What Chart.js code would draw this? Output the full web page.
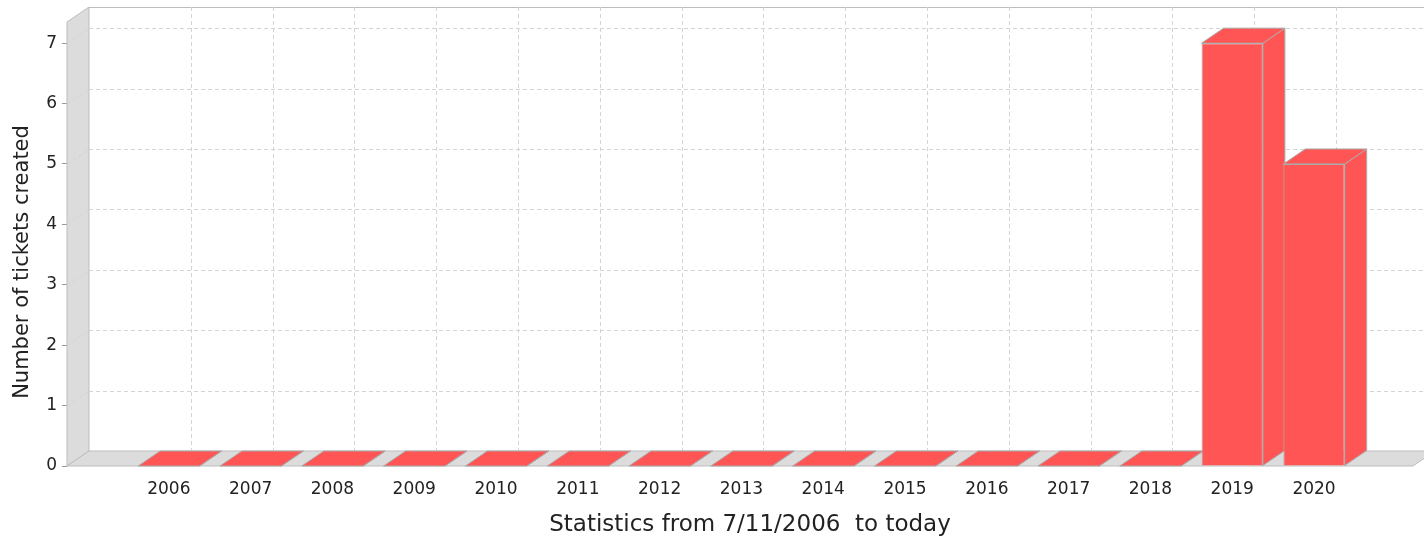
<!DOCTYPE html>
<html>
<head>
<meta charset="utf-8">
<script src="https://cdn.jsdelivr.net/npm/chart.js@4.4.1/dist/chart.umd.min.js"></script>
<style>
  html, body { margin: 0; padding: 0; background: #fff; }
  #caixa { width: 1424px; height: 542px; position: relative; }
</style>
</head>
<body>
<div id="caixa"><canvas id="grafico"></canvas></div>
<script>
// dados
const anos = ['2006', '2007', '2008', '2009', '2010', '2011', '2012', '2013',
              '2014', '2015', '2016', '2017', '2018', '2019', '2020'];
const tickets = [0, 0, 0, 0, 0, 0, 0, 0, 0, 0, 0, 0, 0, 7, 5];
const marcasY = [0, 1, 2, 3, 4, 5, 6, 7];
const tituloX = 'Statistics from 7/11/2006  to today';
const tituloY = 'Number of tickets created';

// profundidade do efeito 3D
const DX = 22, DY = 15;
const corBarra = '#ff5555';
const corContorno = '#ababab';
const corParede = '#dcdcdc';
const corBordaParede = '#bdbdbd';
const corGrade = '#d4d4d4';
const corTexto = '#222222';

Chart.defaults.font.family = "'DejaVu Sans', sans-serif";

function poligono(ctx, pts) {
  ctx.beginPath();
  ctx.moveTo(pts[0][0], pts[0][1]);
  for (let i = 1; i < pts.length; i++) ctx.lineTo(pts[i][0], pts[i][1]);
  ctx.closePath();
  ctx.fill();
  ctx.stroke();
}

function linha(ctx, x1, y1, x2, y2) {
  ctx.beginPath();
  ctx.moveTo(x1, y1);
  ctx.lineTo(x2, y2);
  ctx.stroke();
}

const efeito3d = {
  id: 'efeito3d',
  beforeDatasetsDraw(chart) {
    const ctx = chart.ctx;
    const a = chart.chartArea;
    const escX = chart.scales.x, escY = chart.scales.y;
    ctx.save();
    ctx.lineWidth = 1;

    // parede esquerda e chao
    ctx.fillStyle = corParede;
    ctx.strokeStyle = corBordaParede;
    poligono(ctx, [[a.left, a.bottom], [a.left, a.top], [a.left + DX, a.top - DY], [a.left + DX, a.bottom - DY]]);
    poligono(ctx, [[a.left, a.bottom], [a.left + DX, a.bottom - DY], [a.right + DX, a.bottom - DY], [a.right, a.bottom]]);
    linha(ctx, a.left + DX, a.top - DY + 0.5, a.right + DX, a.top - DY + 0.5);

    // grade tracejada no plano de fundo
    ctx.strokeStyle = corGrade;
    ctx.setLineDash([4, 3]);
    marcasY.forEach(v => {
      if (v === 0) return;
      const py = Math.round(escY.getPixelForValue(v)) + 0.5;
      linha(ctx, a.left + DX, py - DY, a.right + DX, py - DY);
      linha(ctx, a.left, py, a.left + DX, py - DY);
    });
    anos.forEach((_, i) => {
      const px = Math.round(escX.getPixelForValue(i)) + 0.5 + DX;
      linha(ctx, px, a.top - DY, px, a.bottom - DY);
    });
    ctx.setLineDash([]);

    // topo e lateral das barras
    ctx.fillStyle = corBarra;
    ctx.strokeStyle = corContorno;
    chart.getDatasetMeta(0).data.forEach(el => {
      const p = el.getProps(['x', 'y', 'base', 'width'], true);
      const esq = p.x - p.width / 2, dir = p.x + p.width / 2;
      poligono(ctx, [[dir, p.y], [dir + DX, p.y - DY], [dir + DX, p.base - DY], [dir, p.base]]);
      poligono(ctx, [[esq, p.y], [esq + DX, p.y - DY], [dir + DX, p.y - DY], [dir, p.y]]);
    });
    ctx.restore();
  },
  afterDraw(chart) {
    const ctx = chart.ctx;
    ctx.save();
    ctx.fillStyle = corTexto;
    ctx.textAlign = 'center';
    ctx.textBaseline = 'middle';
    ctx.font = "23px 'DejaVu Sans', sans-serif";
    ctx.fillText(tituloX, 750, 525);
    ctx.font = "21px 'DejaVu Sans', sans-serif";
    ctx.translate(23, 262);
    ctx.rotate(-Math.PI / 2);
    ctx.fillText(tituloY, 0, 0);
    ctx.restore();
  }
};

new Chart(document.getElementById('grafico'), {
  type: 'bar',
  data: {
    datasets: [{
      data: tickets.map((v, i) => ({ x: i, y: v })),
      backgroundColor: corBarra,
      borderColor: corContorno,
      borderWidth: 1,
      barPercentage: 0.75,
      categoryPercentage: 1
    }]
  },
  options: {
    responsive: true,
    maintainAspectRatio: false,
    animation: false,
    layout: { padding: { top: 22, right: 11, left: 0, bottom: 0 } },
    plugins: { legend: { display: false }, tooltip: { enabled: false } },
    scales: {
      x: {
        type: 'linear',
        offset: false,
        min: -1.245,
        max: 15.21,
        afterBuildTicks: s => { s.ticks = anos.map((_, i) => ({ value: i })); },
        afterFit: s => { s.height = 76; },
        grid: { display: false, offset: false },
        border: { display: false },
        ticks: {
          autoSkip: false, maxRotation: 0, padding: 5, color: corTexto,
          font: { size: 17 },
          callback: v => anos[v]
        }
      },
      y: {
        min: 0,
        max: 7.35,
        afterBuildTicks: s => { s.ticks = marcasY.map(v => ({ value: v })); },
        afterFit: s => { s.width = 67; },
        grid: { drawOnChartArea: false, tickLength: 5, color: '#999999' },
        border: { display: false },
        ticks: { padding: 5, color: corTexto, font: { size: 17 } }
      }
    }
  },
  plugins: [efeito3d]
});
</script>
</body>
</html>
